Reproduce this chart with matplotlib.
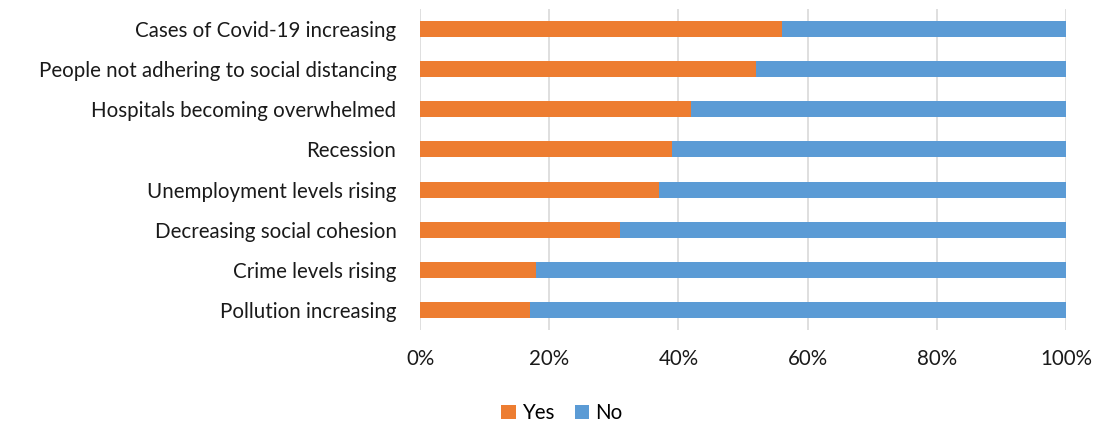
import matplotlib.pyplot as plt
from matplotlib.ticker import PercentFormatter

plt.rcParams["font.family"] = ["Lato", "DejaVu Sans"]

# 自上而下的顺序
categories = ["Cases of Covid-19 increasing",
              "People not adhering to social distancing",
              "Hospitals becoming overwhelmed",
              "Recession",
              "Unemployment levels rising",
              "Decreasing social cohesion",
              "Crime levels rising",
              "Pollution increasing"]
yes_pct = [56, 52, 42, 39, 37, 31, 18, 17]
no_pct = [100 - v for v in yes_pct]

ORANGE = "#ED7D31"
BLUE = "#5B9BD5"
GRID = "#D9D9D9"
FS = 14.8


def main() -> None:
    fig = plt.figure(figsize=(11.01, 4.30), dpi=100)
    ax = fig.add_axes([420 / 1101, 1 - 330 / 430, 646 / 1101, 321 / 430])

    pos = list(range(len(categories)))[::-1]
    ax.barh(pos, yes_pct, height=0.4, color=ORANGE, label="Yes", zorder=3)
    ax.barh(pos, no_pct, left=yes_pct, height=0.4, color=BLUE, label="No", zorder=3)

    ax.set_xlim(0, 100)
    ax.set_ylim(-0.5, len(categories) - 0.5)
    ax.set_xticks(range(0, 101, 20))
    ax.xaxis.set_major_formatter(PercentFormatter(decimals=0))
    ax.set_yticks(pos)
    ax.set_yticklabels(categories)
    ax.tick_params(axis="y", length=0, pad=17, labelsize=FS, colors="#1a1a1a")
    ax.tick_params(axis="x", length=0, pad=14, labelsize=FS, colors="#1a1a1a")
    ax.grid(axis="x", color=GRID, linewidth=1.2, zorder=0)
    for s in ax.spines.values():
        s.set_visible(False)

    fig.legend(loc="center", bbox_to_anchor=(562 / 1101, 1 - 413 / 430),
               ncol=2, frameon=False, fontsize=FS, handlelength=0.7,
               handleheight=0.7, handletextpad=0.3, columnspacing=1.0)

    fig.savefig("out.png", dpi=100)


if __name__ == "__main__":
    main()
